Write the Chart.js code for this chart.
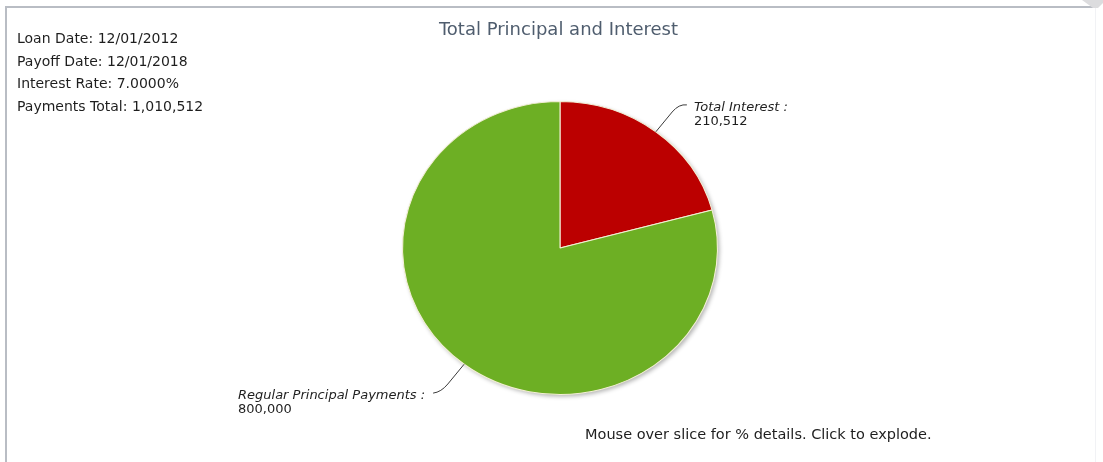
<!DOCTYPE html>
<html>
<head>
<meta charset="utf-8">
<script src="https://cdn.jsdelivr.net/npm/chart.js@4/dist/chart.umd.min.js"></script>
<style>
  html, body { margin: 0; padding: 0; background: #ffffff; }
  #wrap { position: relative; width: 1103px; height: 462px; overflow: hidden; font-family: "DejaVu Sans", sans-serif; }
  #pie { position: absolute; left: 0; top: 0; }
  .frame-top { position: absolute; left: 6px; top: 6px; width: 1091px; height: 0; border-top: 2px solid #b9bdc4; }
  .frame-left { position: absolute; left: 5px; top: 6px; width: 0; height: 456px; border-left: 2px solid #b9bdc4; }
  .frame-right { position: absolute; left: 1095px; top: 8px; width: 0; height: 454px; border-left: 1px solid #f1f2f5; }
  .corner { position: absolute; left: 0; top: 0; width: 1103px; height: 12px; background: #dcdcde;
            clip-path: polygon(1082px 0, 1103px 0, 1103px 3px, 1098px 8px, 1093px 8px); }
  #info { position: absolute; left: 17px; top: 27px; font-size: 14px; line-height: 22.7px; color: #1e1e1e; }
  #title { position: absolute; left: 0; top: 18px; width: 1117px; text-align: center; font-size: 18px; color: #4f5d6e; }
  #note { position: absolute; left: 585px; top: 426px; font-size: 14.5px; color: #1e1e1e; white-space: nowrap; }
</style>
</head>
<body>
<div id="wrap">
  <div class="frame-top"></div>
  <div class="frame-left"></div>
  <div class="frame-right"></div>
  <div class="corner"></div>
  <canvas id="pie" width="1103" height="462"></canvas>
  <div id="title"></div>
  <div id="info"></div>
  <div id="note">Mouse over slice for % details. Click to explode.</div>
</div>
<script>
// Loan summary shown in the upper-left block
const loanDate = '12/01/2012';
const payoffDate = '12/01/2018';
const interestRate = '7.0000%';

// Slices of the pie
const categories = ['Total Interest', 'Regular Principal Payments'];
const amounts = [210512, 800000];
const sliceColors = ['#bb0000', '#6daf24'];

const fmt = v => v.toLocaleString('en-US');
const paymentsTotal = amounts.reduce((a, b) => a + b, 0);

document.getElementById('title').textContent = 'Total Principal and Interest';
document.getElementById('info').innerHTML =
  '<div>Loan Date: ' + loanDate + '</div>' +
  '<div>Payoff Date: ' + payoffDate + '</div>' +
  '<div>Interest Rate: ' + interestRate + '</div>' +
  '<div>Payments Total: ' + fmt(paymentsTotal) + '</div>';

// The pie is drawn slightly wider than tall
const STRETCH_X = 1.075;

const ovalPie = {
  id: 'ovalPie',
  beforeDatasetsDraw(chart) {
    const arc = chart.getDatasetMeta(0).data[0];
    if (!arc) return;
    const ctx = chart.ctx;
    const r = arc.outerRadius;
    // soft drop shadow under the pie
    ctx.save();
    ctx.shadowColor = 'rgba(0,0,0,0.3)';
    ctx.shadowBlur = 4;
    ctx.shadowOffsetX = 2;
    ctx.shadowOffsetY = 2;
    ctx.fillStyle = '#cccccc';
    ctx.beginPath();
    ctx.ellipse(arc.x, arc.y, r * STRETCH_X, r, 0, 0, Math.PI * 2);
    ctx.fill();
    ctx.restore();
    // horizontal stretch for the slices themselves
    ctx.save();
    ctx.translate(arc.x, arc.y);
    ctx.scale(STRETCH_X, 1);
    ctx.translate(-arc.x, -arc.y);
  },
  afterDatasetsDraw(chart) {
    chart.ctx.restore();
  }
};

// Leader lines and two-line value labels for each slice
const sliceLabels = {
  id: 'sliceLabels',
  afterDraw(chart) {
    const ctx = chart.ctx;
    const meta = chart.getDatasetMeta(0);
    meta.data.forEach((arc, i) => {
      const mid = (arc.startAngle + arc.endAngle) / 2;
      const r = arc.outerRadius;
      const cos = Math.cos(mid), sin = Math.sin(mid);
      const at = f => ({ x: arc.x + r * STRETCH_X * f * cos, y: arc.y + r * f * sin });
      const p0 = at(1.0);
      const pa = at(1.17);
      const p1 = at(1.24);
      const dir = cos >= 0 ? 1 : -1;
      const p2 = { x: p1.x + dir * 8, y: p1.y + 1 };

      ctx.save();
      ctx.strokeStyle = '#3a3a3a';
      ctx.lineWidth = 1;
      ctx.beginPath();
      ctx.moveTo(p0.x, p0.y);
      ctx.lineTo(pa.x, pa.y);
      ctx.quadraticCurveTo(p1.x, p1.y, p2.x, p2.y);
      ctx.stroke();

      const line1 = categories[i] + ' :';
      const line2 = fmt(amounts[i]);
      ctx.fillStyle = '#1e1e1e';
      ctx.textBaseline = 'middle';
      ctx.font = 'italic 13px "DejaVu Sans"';
      const w1 = ctx.measureText(line1).width;
      const left = dir > 0 ? p2.x + 7 : p2.x - 8 - w1;
      ctx.textAlign = 'left';
      ctx.fillText(line1, left, p2.y + 3);
      ctx.font = '13px "DejaVu Sans"';
      ctx.fillText(line2, left, p2.y + 17);
      ctx.restore();
    });
  }
};

new Chart(document.getElementById('pie'), {
  type: 'pie',
  data: {
    labels: categories,
    datasets: [{
      data: amounts,
      backgroundColor: sliceColors,
      borderColor: '#f3efd6',
      borderWidth: 1,
      hoverOffset: 0,
      offset: 0
    }]
  },
  options: {
    responsive: false,
    animation: false,
    devicePixelRatio: 1,
    radius: 146.5,
    layout: { padding: { left: 413.5, right: 396.5, top: 101.5, bottom: 67.5 } },
    plugins: {
      legend: { display: false },
      title: { display: false },
      tooltip: { enabled: false }
    }
  },
  plugins: [ovalPie, sliceLabels]
});
</script>
</body>
</html>
